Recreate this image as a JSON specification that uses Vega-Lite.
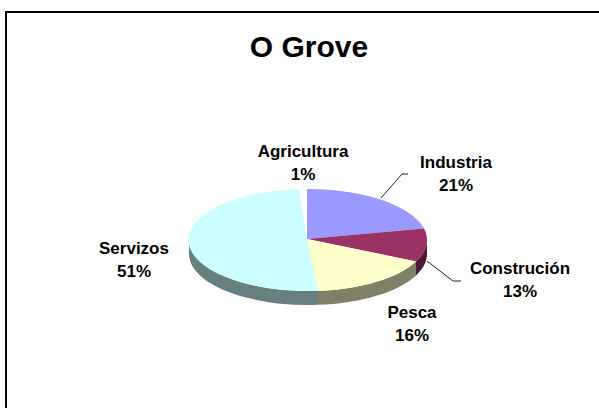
{
  "$schema": "https://vega.github.io/schema/vega-lite/v6.json",
  "width": 600,
  "height": 400,
  "padding": {"left": 6, "top": 12, "right": 0, "bottom": 0},
  "autosize": {"type": "none"},
  "background": "white",
  "view": {"stroke": "#000000", "strokeWidth": 2, "fill": "white"},
  "title": {
    "text": "O Grove",
    "font": "Liberation Sans",
    "fontSize": 30,
    "fontWeight": "bold",
    "color": "#000000",
    "anchor": "middle",
    "dx": 3,
    "offset": -51
  },
  "data": {
    "values": [
      {"sector": "Industria", "share": 21},
      {"sector": "Construción", "share": 13},
      {"sector": "Pesca", "share": 16},
      {"sector": "Servizos", "share": 51},
      {"sector": "Agricultura", "share": 1}
    ]
  },
  "resolve": {"scale": {"color": "independent", "shape": "independent"}},
  "layer": [
    {
      "transform": [{"filter": "indexof(['Construción','Pesca','Servizos'], datum.sector) >= 0"}],
      "mark": {"type": "point", "filled": true, "opacity": 1, "size": 4, "strokeWidth": 0},
      "encoding": {
        "shape": {
          "field": "sector", "type": "nominal", "legend": null,
          "scale": {
            "domain": ["Construción", "Pesca", "Servizos"],
            "range": [
              "M121,28 A119,51 0 0 1 110,49.4 L110,63.4 A119,51 0 0 0 121,42 Z",
              "M110,49.4 A119,51 0 0 1 12,78.82 L12,92.82 A119,51 0 0 0 110,63.4 Z",
              "M12,78.82 A119,51 0 0 1 -117,28 L-117,42 A119,51 0 0 0 12,92.82 Z"
            ]
          }
        },
        "color": {
          "field": "sector", "type": "nominal", "legend": null,
          "scale": {"domain": ["Construción", "Pesca", "Servizos"], "range": ["#4D1A33", "#808066", "#668080"]}
        }
      }
    },
    {
      "mark": {"type": "point", "filled": true, "opacity": 1, "size": 4, "strokeWidth": 0},
      "encoding": {
        "shape": {
          "field": "sector", "type": "nominal", "legend": null,
          "scale": {
            "domain": ["Industria", "Construción", "Pesca", "Servizos", "Agricultura"],
            "range": [
              "M1,27 L1,-23 A119,51 0 0 1 118,16.62 Z",
              "M1,27 L118,16.62 A119,51 0 0 1 110,49.4 Z",
              "M1,27 L110,49.4 A119,51 0 0 1 12,78.82 Z",
              "M1,27 L12,78.82 A119,51 0 1 1 -7,-22.85 Z",
              "M1,27 L-7,-22.85 A119,51 0 0 1 1,-23 Z"
            ]
          }
        },
        "color": {
          "field": "sector", "type": "nominal", "legend": null,
          "scale": {
            "domain": ["Industria", "Construción", "Pesca", "Servizos", "Agricultura"],
            "range": ["#9999FF", "#993366", "#FFFFCC", "#CCFFFF", "#FFFFFF"]
          }
        }
      }
    },
    {
      "transform": [{"filter": "indexof(['Industria','Construción'], datum.sector) >= 0"}],
      "mark": {"type": "point", "filled": false, "opacity": 1, "size": 4, "strokeWidth": 1, "stroke": "#222222"},
      "encoding": {
        "shape": {
          "field": "sector", "type": "nominal", "legend": null,
          "scale": {
            "domain": ["Industria", "Construción"],
            "range": ["M75,-14 L96,-38 L102,-38", "M121,49 L147,69 L155,69"]
          }
        }
      }
    },
    {
      "transform": [{"calculate": "datum.sector + '\\n' + datum.share + '%'", "as": "label"}],
      "mark": {
        "type": "text",
        "font": "Liberation Sans",
        "fontSize": 17,
        "fontWeight": "bold",
        "color": "#000000",
        "align": "center",
        "baseline": "alphabetic",
        "lineBreak": "\n",
        "lineHeight": 23
      },
      "encoding": {
        "text": {"field": "label", "type": "nominal"},
        "x": {
          "field": "share", "type": "quantitative", "axis": null,
          "scale": {"domain": [1, 13, 16, 21, 51], "range": [297, 514, 406, 450, 128], "zero": false, "nice": false}
        },
        "y": {
          "field": "share", "type": "quantitative", "axis": null,
          "scale": {"domain": [1, 13, 16, 21, 51], "range": [145, 262, 306, 156, 242], "zero": false, "nice": false}
        }
      }
    }
  ]
}
